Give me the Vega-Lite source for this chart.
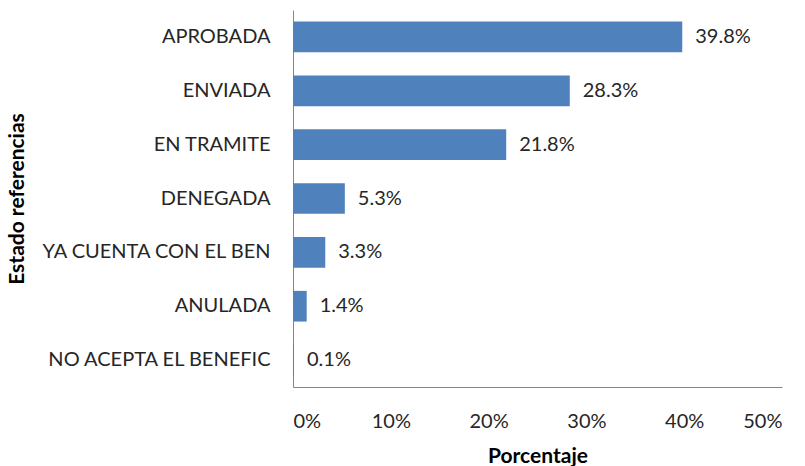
{
  "$schema": "https://vega.github.io/schema/vega-lite/v6.json",
  "width": 489,
  "height": 377,
  "autosize": "none",
  "padding": {"left": 293, "top": 10, "right": 23, "bottom": 79},
  "background": "white",
  "config": {"view": {"stroke": null}, "font": "Lato"},
  "data": {"values": [
    {"estado": "APROBADA", "pct": 0.398},
    {"estado": "ENVIADA", "pct": 0.283},
    {"estado": "EN TRAMITE", "pct": 0.218},
    {"estado": "DENEGADA", "pct": 0.053},
    {"estado": "YA CUENTA CON EL BEN", "pct": 0.033},
    {"estado": "ANULADA", "pct": 0.014},
    {"estado": "NO ACEPTA EL BENEFIC", "pct": 0.001}
  ]},
  "encoding": {
    "y": {
      "field": "estado", "type": "nominal", "sort": null,
      "scale": {"paddingInner": 0.43, "paddingOuter": 0.215},
      "axis": {
        "title": "Estado referencias", "titleFont": "Lato", "titleFontSize": 21, "titleFontWeight": "bold", "titleColor": "#000000",
        "titleX": -266, "titleAngle": -90,
        "labelFont": "Lato", "labelFontSize": 20, "labelColor": "#262626", "labelPadding": 23, "labelLimit": 300,
        "ticks": false, "domainColor": "#868686", "domainWidth": 1, "grid": false
      }
    },
    "x": {
      "field": "pct", "type": "quantitative",
      "scale": {"domain": [0, 0.5], "nice": false},
      "axis": {
        "title": "Porcentaje", "titleFont": "Lato", "titleFontSize": 21, "titleFontWeight": "bold", "titleColor": "#000000",
        "titleY": 75, "titleBaseline": "alphabetic",
        "values": [0, 0.1, 0.2, 0.3, 0.4, 0.5], "format": ".0%",
        "labelFont": "Lato", "labelFontSize": 20, "labelColor": "#262626", "labelPadding": 24,
        "ticks": false, "domainColor": "#868686", "domainWidth": 1, "grid": false
      }
    }
  },
  "layer": [
    {"mark": {"type": "bar", "color": "#4F81BD"}},
    {"mark": {"type": "text", "align": "left", "dx": 13, "fontSize": 20, "font": "Lato", "color": "#262626"},
     "encoding": {"text": {"field": "pct", "type": "quantitative", "format": ".1%"}}}
  ]
}
